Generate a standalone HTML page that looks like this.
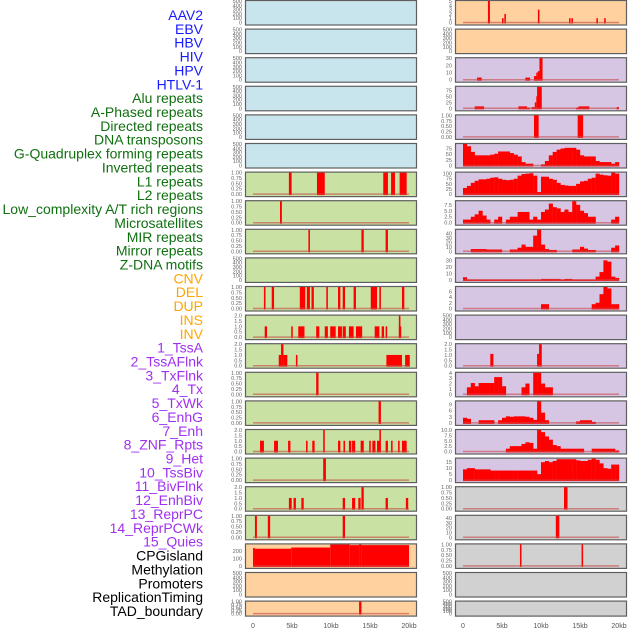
<!DOCTYPE html>
<html><head><meta charset="utf-8">
<style>
html,body{margin:0;padding:0;background:#fff;}
svg{display:block;font-family:"Liberation Sans",sans-serif;}
</style></head>
<body>
<svg id="chart" width="630" height="630" viewBox="0 0 630 630" xmlns="http://www.w3.org/2000/svg"></svg>
<script>
// ---- row labels ----
const labelNames = ["AAV2","EBV","HBV","HIV","HPV","HTLV-1","Alu repeats","A-Phased repeats","Directed repeats","DNA transposons","G-Quadruplex forming repeats","Inverted repeats","L1 repeats","L2 repeats","Low_complexity A/T rich regions","Microsatellites","MIR repeats","Mirror repeats","Z-DNA motifs","CNV","DEL","DUP","INS","INV","1_TssA","2_TssAFlnk","3_TxFlnk","4_Tx","5_TxWk","6_EnhG","7_Enh","8_ZNF_Rpts","9_Het","10_TssBiv","11_BivFlnk","12_EnhBiv","13_ReprPC","14_ReprPCWk","15_Quies","CPGisland","Methylation","Promoters","ReplicationTiming","TAD_boundary"];
const labelGroups = [0,0,0,0,0,0,1,1,1,1,1,1,1,1,1,1,1,1,1,2,2,2,2,2,3,3,3,3,3,3,3,3,3,3,3,3,3,3,3,4,4,4,4,4];
const xTickValues = [0,5,10,15,20];
const xTickLabels = ["0","5kb","10kb","15kb","20kb"];

// ---- segment data [startKb, endKb, value] ----
const alu = [[4.6,4.95,1],[8.2,9.2,1],[16.7,17.3,1],[17.7,18.2,1],[18.8,19.7,1]];
const aPhased = [[3.46,3.7,1]];
const directed = [[7.1,7.3,1],[13.9,14.2,1],[17.0,17.3,1]];
const gquad = [[1.4,1.6,1],[2.4,2.7,1],[6.0,6.7,1],[6.9,7.3,1],[7.5,7.8,1],[9.4,9.6,1],[10.9,11.2,1],[11.5,11.8,1],[12.9,13.2,1],[15.1,15.9,1],[16.2,16.4,1],[19.1,19.4,1]];
const inverted = [[1.5,1.8,1],[4.9,5.1,1],[5.8,6.6,1],[8.1,8.5,1],[9.2,9.6,1],[9.9,10.6,1],[10.9,11.4,1],[11.5,11.9,1],[12.3,12.9,1],[13.2,14.0,1],[15.6,16.2,1],[16.5,16.8,1],[17.0,17.2,1],[18.7,19.0,1],[18.7,18.9,2]];
const l1 = [[3.3,3.6,1],[3.6,3.9,2],[3.9,4.4,1],[5.5,5.7,1],[17.1,19.1,1],[19.5,20.1,1]];
const l2 = [[8.1,8.4,1]];
const lowComplexity = [[16.1,16.4,1]];
const microsat = [[0.9,1.4,1],[2.7,3.2,1],[4.5,4.8,1],[6.8,7.0,1],[7.6,7.9,1],[9.0,9.2,2],[10.9,11.2,1],[11.6,11.8,1],[12.3,12.6,1],[12.7,13.1,1],[13.8,14.2,1],[14.9,15.1,1],[15.3,15.7,1],[15.9,16.3,1],[16.2,16.4,2],[17.0,17.3,1],[17.7,17.9,1],[18.6,18.8,1],[19.1,19.7,1]];
const mir = [[9.0,9.35,1]];
const mirror = [[4.6,4.96,1],[5.2,5.5,1],[6.2,6.5,1],[11.5,11.8,1],[12.7,13.1,1],[13.5,13.8,1],[13.9,14.2,2],[17.0,17.3,1],[19.6,19.9,1]];
const zdna = [[0.25,0.5,1],[1.9,2.2,1],[11.5,11.8,1]];
const cnv = [[0,0.25,240],[0.25,4.9,232],[4.9,9.9,248],[9.9,12.4,288],[12.4,13.6,280],[13.6,13.9,288],[13.9,20,280]];
const dup = [[13.6,13.9,1]];
const ins = [[3.2,3.45,5],[5.0,5.2,1],[5.3,5.5,2],[9.6,9.8,3],[13.6,13.8,1],[13.9,14.1,1],[17.1,17.3,1],[18.1,18.3,1]];
const tssA = [[1.8,2.4,3],[8.0,8.6,3],[9.1,9.5,5],[9.4,9.6,10],[9.6,9.8,12],[9.8,10.2,30]];
const tssAFlnk = [[1.5,2.7,8],[7.1,8.2,8],[8.2,8.6,3],[8.8,9.2,5],[9.2,9.4,25],[9.4,9.5,50],[9.5,10.1,90],[14.5,14.8,3],[14.8,16.2,8],[19.7,20.0,5]];
const txFlnk = [[9.1,9.7,1],[14.7,15.4,1]];
const bivFlnk = [[3.5,3.9,1.1],[9.5,9.75,1.1],[9.75,10.1,2.0]];
const cpg = [[12.95,13.4,1]];
const methylation = [[11.9,12.35,45]];
const promoters = [[7.3,7.5,1],[15.2,15.4,1]];

// ---- binned profiles (0.5 kb bins from 0 to 20 kb) ----
const tx = [95,85,60,45,45,45,45,48,52,62,62,62,55,48,40,15,8,8,0,0,5,20,45,60,70,75,78,78,78,70,45,40,40,40,20,15,15,15,8,15];
const txWk = [30,40,55,65,72,72,75,80,82,75,70,68,70,75,90,98,100,102,90,10,85,85,75,70,55,45,42,40,40,50,62,65,75,80,100,95,92,90,105,100];
const enhG = [1.3,1.3,2.5,3.5,5,3,1.3,0,1.3,2.5,0,1.3,2.5,2.5,4.5,4.5,4.5,1.3,2.5,1.3,4.5,5.5,8,6.5,6,4.5,5.5,4.5,9,7.5,5,4,2.5,2.5,0,0,0,0,1.3,2.5];
const enh = [0,0,5,5,5,5,4,4,4,4,0,0,4,4,8,15,10,10,35,48,15,5,3,3,0,0,0,0,4,4,10,6,3,3,0,0,0,0,8,13];
const znf = [4,0.5,0.5,0.5,0.5,0.5,0.5,0.5,0.5,0.5,0.5,0.5,0.5,0.5,0.5,0.5,0.5,0.5,0.5,0.5,1.5,1.5,1.5,1.5,1.5,0.5,1.5,1.5,0.5,0.5,0.5,0.5,0.5,0.5,5,12,30,28,5,3];
const het = [0,0,0,0,0,0,0,0,0,0,0,0,0,0,0,0,0,0,0,0,1.5,1.5,0,0,0,0,0,0,0,0,0,0,0,1.5,2,5,7.5,7,1.5,1.5];
const enhBiv = [0,1.3,2.1,1.5,2.1,2.1,2.1,2.1,3.2,3.2,1.5,0,0,0,0,1.3,2,0,4,4,2,1.3,1.3,0,0,0,0,0,0,0,0,0,0,0,0,0,0,0,0,0];
const reprPC = [2.5,2,0,0,1.3,1.3,1.3,1.3,0,1.3,2.5,3.2,3,3.2,3.2,3.2,3,2.5,1.5,10.5,5,1.3,0,0,0,0,0,0,0,0.7,1.3,1.3,1.3,0.5,0,0,0,0,0,0];
const reprPCWk = [0,0,0,0,0,0,0,0,0,0,0,1.3,2.5,2.5,2.5,3.5,4.3,4,1.3,10,9,7,5.5,3,2.5,1.3,1.3,1.3,1.3,1.3,1.3,0,0,1.3,1.3,1.3,1.3,1.3,1.3,0.5];
const quies = [9,10,10,9,9,9,9,8,8,8,8,8,8,8,8,8,8,8,8,5,15,16,15,16,17.5,17.5,17.5,17.5,17.5,16.5,16,16,17,18,17,14,10,9.5,13,13];

// ---- tick sets ----
const tEmpty = [0,100,200,300,400,500];
const tUnit = [0,0.25,0.5,0.75,1];
const tTwo = [0,0.5,1,1.5,2];

// panel layout: [col, row, kind, data, ymax, ticks, decimals, fill, name]
const BLUE="#c8e4ec", GREEN="#c9e1a3", ORANGE="#ffd19f", PURPLE="#d6c6e3", GRAY="#d1d1d1";
const panels = [
 [0,0,"e",null,500,tEmpty,0,BLUE,"aav2"],[0,1,"e",null,500,tEmpty,0,BLUE,"ebv"],[0,2,"e",null,500,tEmpty,0,BLUE,"hbv"],
 [0,3,"e",null,500,tEmpty,0,BLUE,"hiv"],[0,4,"e",null,500,tEmpty,0,BLUE,"hpv"],[0,5,"e",null,500,tEmpty,0,BLUE,"htlv-1"],
 [0,6,"s",alu,1,tUnit,2,GREEN,"alu-repeats"],[0,7,"s",aPhased,1,tUnit,2,GREEN,"a-phased-repeats"],
 [0,8,"s",directed,1,tUnit,2,GREEN,"directed-repeats"],[0,9,"e",null,500,tEmpty,0,GREEN,"dna-transposons"],
 [0,10,"s",gquad,1,tUnit,2,GREEN,"g-quadruplex"],[0,11,"s",inverted,2,tTwo,1,GREEN,"inverted-repeats"],
 [0,12,"s",l1,2,tTwo,1,GREEN,"l1-repeats"],[0,13,"s",l2,1,tUnit,2,GREEN,"l2-repeats"],
 [0,14,"s",lowComplexity,1,tUnit,2,GREEN,"low-complexity"],[0,15,"s",microsat,2,tTwo,1,GREEN,"microsatellites"],
 [0,16,"s",mir,1,tUnit,2,GREEN,"mir-repeats"],[0,17,"s",mirror,2,tTwo,1,GREEN,"mirror-repeats"],
 [0,18,"s",zdna,1,tUnit,2,GREEN,"z-dna-motifs"],[0,19,"s",cnv,290,[0,100,200],0,ORANGE,"cnv"],
 [0,20,"e",null,500,tEmpty,0,ORANGE,"del"],[0,21,"s",dup,1,tUnit,2,ORANGE,"dup"],
 [1,0,"s",ins,5,[0,1,2,3,4,5],0,ORANGE,"ins"],[1,1,"e",null,500,tEmpty,0,ORANGE,"inv"],
 [1,2,"s",tssA,30,[0,10,20,30],0,PURPLE,"1-tssa"],[1,3,"s",tssAFlnk,90,[0,25,50,75],0,PURPLE,"2-tssaflnk"],
 [1,4,"s",txFlnk,1,tUnit,2,PURPLE,"3-txflnk"],[1,5,"b",tx,95,[0,25,50,75],0,PURPLE,"4-tx"],
 [1,6,"b",txWk,105,[0,25,50,75,100],0,PURPLE,"5-txwk"],[1,7,"b",enhG,9,[0,2.5,5,7.5],1,PURPLE,"6-enhg"],
 [1,8,"b",enh,48,[0,10,20,30,40],0,PURPLE,"7-enh"],[1,9,"b",znf,33,[0,10,20,30],0,PURPLE,"8-znf-rpts"],
 [1,10,"b",het,7.5,[0,2,4,6],0,PURPLE,"9-het"],[1,11,"e",null,500,tEmpty,0,PURPLE,"10-tssbiv"],
 [1,12,"s",bivFlnk,2,tTwo,1,PURPLE,"11-bivflnk"],[1,13,"b",enhBiv,4,[0,1,2,3,4],0,PURPLE,"12-enhbiv"],
 [1,14,"b",reprPC,10.5,[0,3,6,9],0,PURPLE,"13-reprpc"],[1,15,"b",reprPCWk,10,[0,2.5,5,7.5,10],1,PURPLE,"14-reprpcwk"],
 [1,16,"b",quies,18,[0,5,10,15],0,PURPLE,"15-quies"],[1,17,"s",cpg,1,tUnit,2,GRAY,"cpgisland"],
 [1,18,"s",methylation,45,[0,10,20,30,40],0,GRAY,"methylation"],[1,19,"s",promoters,1,tUnit,2,GRAY,"promoters"],
 [1,20,"e",null,500,tEmpty,0,GRAY,"replicationtiming"],[1,21,"e",null,500,tEmpty,0,GRAY,"tad-boundary"]
];

const NS="http://www.w3.org/2000/svg";
const svg=document.getElementById("chart");
const colX0=[245,455], PW=171, ROWSTEP=28.6;
function mk(tag,attrs,parent){const e=document.createElementNS(NS,tag);for(const k in attrs)e.setAttribute(k,attrs[k]);(parent||svg).appendChild(e);return e;}
function xs(kb,col){return colX0[col]+8+kb*7.8;}
function rowTop(r){return r*ROWSTEP;}
function rowH(r){return r===21?15:24.5;}
function ys(v,r,ymax){const t=rowTop(r),h=rowH(r);return t+h-2-(v/ymax)*(h-3);}

// labels
const groupColors=["#1a1aff","#107010","#ffa500","#a030f0","#000000"];
labelNames.forEach((n,i)=>{
  const t=mk("text",{x:203,y:15+i*13.86+5,"text-anchor":"end","font-size":"14",fill:groupColors[labelGroups[i]]});
  t.textContent=n;
  
  
});

panels.forEach(p=>{
  const [col,row,kind,data,ymax,ticks,dec,fill,name]=p;
  const g=mk("g",{});
  
  
  const top=rowTop(row),h=rowH(row);
  mk("rect",{x:colX0[col]+0.5,y:top+0.5,width:PW,height:h,fill:fill,stroke:"#5f5f5f","stroke-width":"1.2"},g);
  // y ticks
  ticks.forEach(tv=>{
    const lab=mk("text",{x:colX0[col]-3,y:ys(tv,row,ymax)+2,"text-anchor":"end","font-size":"5.6",fill:"#666"},g);
    lab.textContent=dec?tv.toFixed(dec):String(tv);
    
    
  });
  const y0=ys(0,row,ymax);
  if(kind==="s"){
    data.forEach(d=>{
      const x1=xs(d[0],col),x2=xs(d[1],col),y1=ys(d[2],row,ymax);
      const r=mk("rect",{x:x1,y:Math.max(y1,top+1),width:Math.max(x2-x1,1.4),height:y0-Math.max(y1,top+1)+1,fill:"#ff0000"},g);
      
      
    });
  } else if(kind==="b"){
    data.forEach((v,i)=>{
      if(v<=0)return;
      const x1=xs(i*0.5,col),x2=xs(i*0.5+0.5,col),y1=ys(v,row,ymax);
      const r=mk("rect",{x:x1,y:Math.max(y1,top+1),width:x2-x1+0.2,height:y0-Math.max(y1,top+1)+1,fill:"#ff0000"},g);
      
      
    });
  }
  if(kind!=="e"){
    const bl=mk("line",{x1:xs(0,col),x2:xs(20,col),y1:y0,y2:y0,stroke:"rgba(200,70,70,0.6)","stroke-width":"1.5"},g);
    
    
  }
});

// x axes
[0,1].forEach(col=>{
  xTickValues.forEach((v,i)=>{
    const t=mk("text",{x:xs(v,col),y:628,"text-anchor":"middle","font-size":"7",fill:"#555"});
    t.textContent=xTickLabels[i];
    
    
  });
});
</script>
</body></html>
